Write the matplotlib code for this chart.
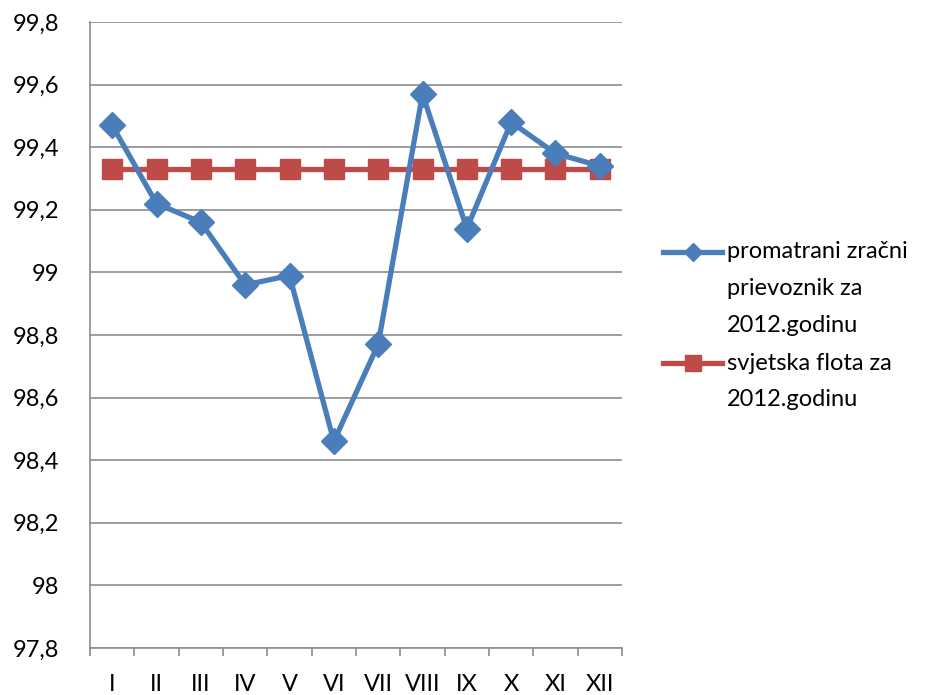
import matplotlib.pyplot as plt
from matplotlib.lines import Line2D
from matplotlib.ticker import FuncFormatter, FixedLocator

plt.rcParams['font.family'] = ['Lato', 'DejaVu Sans']

months = ['I', 'II', 'III', 'IV', 'V', 'VI', 'VII', 'VIII', 'IX', 'X', 'XI', 'XII']
carrier = [99.47, 99.22, 99.16, 98.96, 98.99, 98.46, 98.77, 99.57, 99.14, 99.48, 99.38, 99.34]
world_fleet = [99.33] * 12

carrier_label = 'promatrani zračni\nprievoznik za\n2012.godinu'
fleet_label = 'svjetska flota za\n2012.godinu'

blue = '#4A7EBB'
red = '#BE4B48'
grid_gray = '#8C8C8C'

fig = plt.figure(figsize=(9.36, 6.95), dpi=100)
ax = fig.add_axes([90 / 936, 47 / 695, 532 / 936, 626 / 695])

x = list(range(len(months)))
ax.plot(x, carrier, color=blue, lw=3.8, marker='D', ms=13, zorder=3)
ax.plot(x, world_fleet, color=red, lw=3.8, marker='s', ms=14, zorder=2)

ax.set_xlim(-0.5, len(months) - 0.5)
ax.set_ylim(97.8, 99.8)

def fmt(v, pos):
    s = f'{v:.1f}'.replace('.', ',')
    return s[:-2] if s.endswith(',0') else s

ax.set_yticks([97.8 + 0.2 * i for i in range(11)])
ax.yaxis.set_major_formatter(FuncFormatter(fmt))
ax.grid(axis='y', color=grid_gray, lw=1.2)
ax.set_axisbelow(True)

ax.set_xticks(x)
ax.set_xticklabels(months)
ax.xaxis.set_minor_locator(FixedLocator([i - 0.5 for i in range(len(months) + 1)]))
ax.tick_params(axis='x', which='major', length=0, pad=19, labelsize=17)
ax.tick_params(axis='x', which='minor', length=6, color=grid_gray, width=1.2)
ax.tick_params(axis='y', length=0, pad=22, labelsize=17)

for side in ('top', 'right'):
    ax.spines[side].set_visible(False)
for side in ('left', 'bottom'):
    ax.spines[side].set_color(grid_gray)
    ax.spines[side].set_linewidth(1.2)

# legend drawn by hand so the marker sits on the first text line
LINE_STEP = 37

def legend_entry(y_px, color, marker, ms, text):
    yf = 1 - y_px / 695
    fig.add_artist(Line2D([663 / 936, 722 / 936], [yf, yf], color=color, lw=3.8,
                          transform=fig.transFigure))
    fig.add_artist(Line2D([692.5 / 936], [yf], color=color, marker=marker, ms=ms,
                          transform=fig.transFigure))
    for i, line in enumerate(text.split('\n')):
        fig.text(727 / 936, 1 - (y_px + i * LINE_STEP) / 695, line, fontsize=17,
                 va='center', ha='left')

legend_entry(252, blue, 'D', 9, carrier_label)
legend_entry(363, red, 's', 11, fleet_label)

fig.savefig('out.png', dpi=100)
